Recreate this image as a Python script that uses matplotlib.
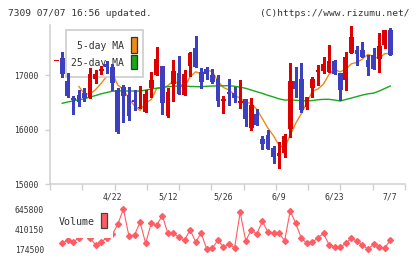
import numpy as np
import pandas as pd
import matplotlib
matplotlib.use('Agg')
import matplotlib.pyplot as plt
from matplotlib.patches import Rectangle

# daily candles (7309)
opens = [17260, 17318, 16895, 16582, 16637, 16674, 16588, 16932, 17085, 17213,
         17153, 16724, 16785, 16637, 16545, 16393, 16330, 16766, 17000, 17171,
         16251, 16845, 17042, 16643, 17171, 17502, 17055, 17116, 17006, 16932,
         16533, 16693, 16674, 16496, 16564, 16036, 16288, 15828, 15901, 15667,
         15520, 15575, 16017, 16895, 16932, 16417, 16772, 17066, 17079, 17061,
         17263, 17042, 16913, 17410, 17466, 17466, 17282, 17374, 17306, 17558,
         17834]
closes = [17265, 17029, 16613, 16545, 16514, 16582, 17024, 17024, 17121, 17147,
          16853, 15962, 16613, 16256, 16514, 16422, 16656, 16913, 17300, 16496,
          16693, 17079, 16661, 17024, 17410, 17153, 16882, 17018, 16877, 16533,
          16564, 16656, 16582, 16527, 16196, 16453, 16091, 15741, 15649, 15501,
          15570, 15883, 16895, 16748, 16367, 16601, 16932, 17098, 17208, 17263,
          17024, 16729, 17337, 17705, 17392, 17342, 17158, 17116, 17539, 17834,
          17379]
highs = [17265, 17429, 17042, 16619, 16729, 16772, 17129, 17098, 17171, 17269,
         17208, 16761, 16821, 16790, 16735, 16803, 16729, 17061, 17515, 17171,
         16766, 17282, 17361, 17098, 17429, 17723, 17130, 17153, 17116, 17006,
         16619, 16926, 16790, 16913, 16564, 16582, 16385, 15883, 15993, 15699,
         15772, 15920, 17232, 17153, 17221, 16601, 16969, 17190, 17337, 17558,
         17282, 17042, 17429, 17915, 17539, 17613, 17374, 17502, 17779, 17834,
         17871]
lows = [17260, 16974, 16601, 16293, 16435, 16527, 16588, 16864, 17024, 17037,
        16729, 15944, 16146, 16177, 16361, 16393, 16319, 16606, 17000, 16288,
        16238, 16533, 16661, 16643, 16987, 17153, 16761, 16936, 16853, 16440,
        16312, 16453, 16514, 16404, 16072, 15999, 16091, 15649, 15649, 15391,
        15299, 15502, 15870, 16606, 16319, 16380, 16601, 16821, 17042, 17061,
        17024, 16545, 16729, 17410, 17190, 17342, 17006, 17116, 17066, 17502,
        17379]
ma25 = [None, 16485, 16509, 16531, 16549, 16569, 16601, 16628, 16660, 16683,
        16707, 16715, 16711, 16711, 16711, 16711, 16729, 16748, 16763, 16779,
        16790, 16798, 16803, 16799, 16796, 16792, 16790, 16798, 16803, 16805,
        16807, 16809, 16798, 16781, 16761, 16729, 16698, 16667, 16632, 16601,
        16567, 16545, 16545, 16542, 16534, 16529, 16536, 16551, 16558, 16558,
        16545, 16527, 16555, 16582, 16610, 16637, 16660, 16672, 16711, 16757,
        16803]
volume = [None, 245000, 283300, 263400, 305000, 353400, 310000, 224800, 256400, 310000,
          347600, 466900, 645800, 330000, 341700, 490300, 244700, 478600, 458700, 567500,
          361600, 361600, 314800, 283300, 400200, 263400, 361600, 174500, 186200, 283300,
          197900, 236500, 193200, 607200, 275100, 400200, 353400, 505500, 373300, 361600,
          361600, 275100, 622400, 478600, 303100, 244700, 256400, 310200, 361600, 224800,
          204900, 197900, 244700, 303100, 271600, 224800, 176800, 233000, 204900, 186200,
          283300]
date_labels = ['4/22', '5/12', '5/26', '6/9', '6/23', '7/7']
date_idx = [10, 20, 30, 40, 50, 60]
price_ticks = [15000, 16000, 17000]

RED = '#dc0000'
BLUE = '#3c40c0'
ORANGE = '#f08a14'
GREEN = '#18a818'
VOLC = '#ff5c64'
AX = '#d0d0d0'
TXT = '#333333'
plt.rcParams['font.family'] = 'DejaVu Sans Mono'

df = pd.DataFrame({'o': opens, 'h': highs, 'l': lows, 'c': closes,
                   'ma25': pd.to_numeric(pd.Series(ma25)),
                   'v': pd.to_numeric(pd.Series(volume))})
df['ma5'] = df['c'].rolling(5).mean()
x = np.arange(len(df))
up = df['c'] >= df['o']
col = np.where(up, RED, BLUE)

fig = plt.figure(figsize=(4.2, 2.59), dpi=100)
ax = fig.add_axes([50/420, 1-184/259, 355/420, 159/259])
axv = fig.add_axes([50/420, 1-256/259, 355/420, 56/259])

# moving averages
ax.plot(x, df['ma5'], color=ORANGE, lw=1.0, zorder=2)
ax.plot(x, df['ma25'], color=GREEN, lw=1.0, zorder=2)

# legend box (sits under the candles)
ax.add_patch(Rectangle((0.044, 0.675), 0.2186, 0.2935, transform=ax.transAxes,
                       facecolor='white', edgecolor=AX, lw=1.3, zorder=3))
ax.text(0.209, 0.868, '5-day MA', transform=ax.transAxes, ha='right', va='center',
        fontsize=7, color=TXT, zorder=4)
ax.text(0.209, 0.759, '25-day MA', transform=ax.transAxes, ha='right', va='center',
        fontsize=7, color=TXT, zorder=4)
ax.add_patch(Rectangle((0.228, 0.826), 0.0177, 0.097, transform=ax.transAxes,
                       facecolor=ORANGE, edgecolor='#333333', lw=0.9, zorder=4))
ax.add_patch(Rectangle((0.228, 0.721), 0.0177, 0.092, transform=ax.transAxes,
                       facecolor=GREEN, edgecolor='#333333', lw=0.9, zorder=4))

# candles
ax.vlines(x, df['l'], df['h'], colors=col, lw=1.0, zorder=5, antialiased=False)
body = np.maximum((df['c'] - df['o']).abs(), 18)
ax.bar(x, body, bottom=np.minimum(df['o'], df['c']), width=0.85,
       color=col, lw=0, zorder=6, antialiased=False)

ax.set_xlim(-1.2, 62.65)
ax.set_ylim(15000, 17926)
ax.set_xticks(np.linspace(-1.2, 62.65, 12))
ax.set_xticklabels([])
ax.set_yticks(price_ticks)
ax.set_yticklabels([str(t) for t in price_ticks])
ax.tick_params(axis='x', length=4.5, width=1, color=AX)
ax.tick_params(axis='y', length=3.6, width=1, color=AX, pad=5, labelsize=5.8,
               labelcolor=TXT)
for s in ['top', 'right']:
    ax.spines[s].set_visible(False)
for s in ['left', 'bottom']:
    ax.spines[s].set_color(AX)
    ax.spines[s].set_linewidth(1.1)

for i, lab in zip(date_idx, date_labels):
    ax.text(i, -0.082, lab, transform=ax.get_xaxis_transform(), ha='center',
            va='center', fontsize=5.9, color=TXT)

# volume panel
axv.plot(x, df['v'], color=VOLC, lw=0.8, marker='D', ms=3.0, mec=VOLC, zorder=2)
axv.set_xlim(-1.2, 62.65)
axv.set_ylim(96144, 751064)
vmin, vmax = df['v'].min(), df['v'].max()
vt = [vmin, (vmin + vmax) / 2, vmax]
axv.set_yticks(vt)
axv.set_yticklabels(['%d' % v for v in vt])
axv.set_xticks([])
axv.tick_params(axis='y', length=0, pad=4.3, labelsize=5.8, labelcolor=TXT)
for s in axv.spines.values():
    s.set_visible(False)
axv.patch.set_alpha(0)
axv.add_patch(Rectangle((0.006, 0.321), 0.171, 0.6, transform=axv.transAxes,
                        facecolor='white', edgecolor='none', zorder=3))
axv.text(0.1268, 0.602, 'Volume', transform=axv.transAxes, ha='right', va='center',
         fontsize=7.2, color=TXT, zorder=4)
axv.add_patch(Rectangle((0.1437, 0.495), 0.0177, 0.268, transform=axv.transAxes,
                        facecolor=VOLC, edgecolor='#444444', lw=0.9, zorder=4))

fig.text(8/420, 1-13.3/259, '7309 07/07 16:56 updated.', ha='left', va='center',
         fontsize=6.8, color=TXT)
fig.text(410/420, 1-13.3/259, '(C)https://www.rizumu.net/', ha='right', va='center',
         fontsize=6.8, color=TXT)

fig.savefig('out.png', dpi=100)
